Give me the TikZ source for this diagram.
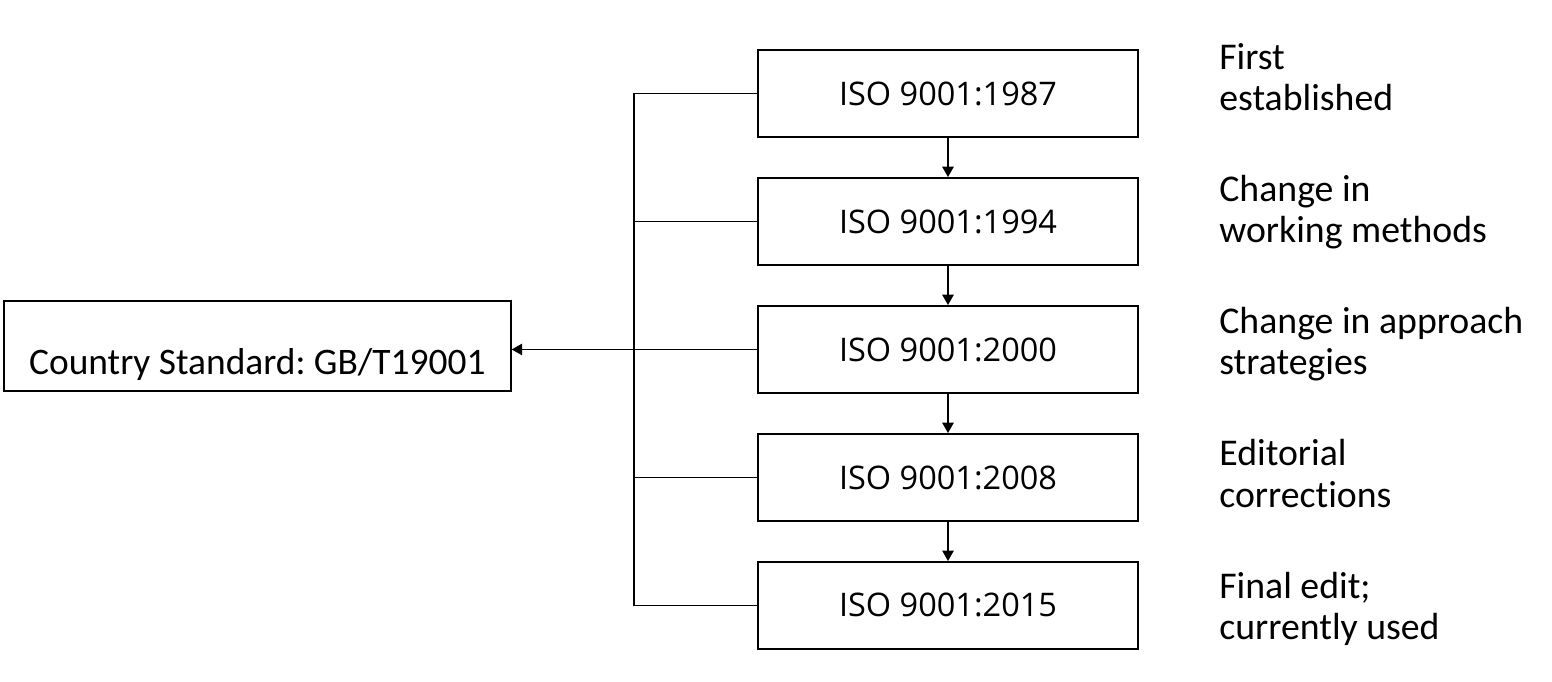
\documentclass[tikz,border=0pt]{standalone}
\usepackage{fontspec}
\setmainfont{Carlito}[Ligatures=NoCommon]
\newfontfamily\boxfont{Open Sans}
\usetikzlibrary{arrows.meta, positioning, calc}
\frenchspacing

\begin{document}
\begin{tikzpicture}[
  x=0.02cm, y=-0.02cm,
  node distance=0.785cm,
  isobox/.style={rectangle, draw, line width=1pt, minimum width=7.6cm, minimum height=1.74cm, inner sep=0pt, font=\boxfont\fontsize{18.5}{22}\selectfont},
  gbbox/.style={rectangle, draw, line width=1pt, minimum width=10.14cm, inner ysep=0pt, text height=1.46cm, text depth=0.34cm, font=\fontsize{21.3}{24}\selectfont},
  note/.style={anchor=base west, align=left, inner sep=0pt, font=\fontsize{21.5}{23.5}\selectfont},
  arrow/.style={-{Triangle[length=6pt, width=6.5pt]}, line width=1pt},
  link/.style={line width=1pt}
]
  \useasboundingbox (0,0) rectangle (1552,682);

  \node[isobox] (v1987) at (948,93.5) {ISO 9001:1987};
  \node[isobox, below=of v1987] (v1994) {ISO 9001:1994};
  \node[isobox, below=of v1994] (v2000) {ISO 9001:2000};
  \node[isobox, below=of v2000] (v2008) {ISO 9001:2008};
  \node[isobox, below=of v2008] (v2015) {ISO 9001:2015};

  \node[gbbox, anchor=south west] (gbt) at (3,392) {Country Standard: GB/T19001};

  % notes: base anchor sits on the second line
  \node[note] (n1987) at (1219,110.5) {First\\established};
  \node[note] (n1994) at (1219,242.7) {Change in\\working methods};
  \node[note] (n2000) at (1219,374.9) {Change in approach\\strategies};
  \node[note] (n2008) at (1219,507.1) {Editorial\\corrections};
  \node[note] (n2015) at (1219,639.3) {Final edit;\\currently used};

  \draw[arrow] (v1987) -- (v1994);
  \draw[arrow] (v1994) -- (v2000);
  \draw[arrow] (v2000) -- (v2008);
  \draw[arrow] (v2008) -- (v2015);

  \coordinate (rail) at (634,0);
  \draw[link] (v1987.west) -- (v1987.west -| rail) -- (v2015.west -| rail) -- (v2015.west);
  \draw[link] (v1994.west) -- (v1994.west -| rail);
  \draw[link] (v2008.west) -- (v2008.west -| rail);
  \draw[arrow] (v2000.west) -- (v2000.west -| gbt.east);
\end{tikzpicture}
\end{document}
